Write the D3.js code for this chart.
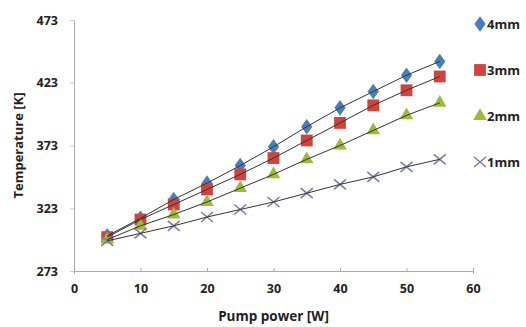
<!DOCTYPE html>
<html>
<head>
<meta charset="utf-8">
<script src="https://cdn.jsdelivr.net/npm/d3@7"></script>
<style>
  body { margin: 0; background: #fff; }
  text { font-family: "Open Sans", "Liberation Sans", sans-serif; font-weight: bold; fill: #222; }
</style>
</head>
<body>
<div id="chart"></div>
<script>
// data
const power = [5, 10, 15, 20, 25, 30, 35, 40, 45, 50, 55];
const temp4mm = [301, 315, 330, 343, 357, 372, 388, 403, 416, 429, 440];
const temp3mm = [300, 314, 326, 338, 350, 363, 377, 391, 405, 417, 428];
const temp2mm = [298, 309, 318, 328, 339, 350, 362, 373, 385, 397, 407];
const temp1mm = [297, 303, 309, 316, 322, 328, 335, 342, 348, 356, 362];
const seriesNames = ["4mm", "3mm", "2mm", "1mm"];
const xTicks = [0, 10, 20, 30, 40, 50, 60];
const yTicks = [273, 323, 373, 423, 473];

const width = 526, height = 327;
const margin = { top: 20, left: 74, right: 53, bottom: 56 };

const svg = d3.select("#chart").append("svg")
  .attr("width", width)
  .attr("height", height);

const x = d3.scaleLinear().domain([0, 60]).range([margin.left, width - margin.right]);
const y = d3.scaleLinear().domain([273, 473]).range([height - margin.bottom, margin.top]);

let series = [
  { name: "4mm", values: temp4mm, color: "#4a7ebb", shape: "diamond" },
  { name: "3mm", values: temp3mm, color: "#d0443f", shape: "square" },
  { name: "2mm", values: temp2mm, color: "#9bbb3a", shape: "triangle" },
  { name: "1mm", values: temp1mm, color: "#7a7aa0", shape: "cross" }
];

// axes
let xAxis = svg.append("g")
  .attr("transform", `translate(0,${y(273)})`)
  .call(d3.axisBottom(x).tickValues(xTicks).tickSize(3).tickPadding(10));
xAxis.select(".domain").attr("stroke", "#aaa");
xAxis.selectAll(".tick line").attr("stroke", "#aaa").attr("y1", -3).attr("y2", 0);
xAxis.selectAll("text").style("font-size", "12.5px").attr("fill", "#222");

let yAxis = svg.append("g")
  .attr("transform", `translate(${x(0)},0)`)
  .call(d3.axisLeft(y).tickValues(yTicks).tickSize(4).tickPadding(12).tickSizeOuter(0));
yAxis.select(".domain").attr("stroke", "#aaa");
yAxis.selectAll(".tick line").attr("stroke", "#ccc");
yAxis.selectAll("text").style("font-size", "12.5px").attr("fill", "#222");

// axis titles
svg.append("text")
  .attr("x", (x(0) + x(60)) / 2)
  .attr("y", 321)
  .attr("text-anchor", "middle")
  .style("font-size", "13.5px")
  .text("Pump power [W]");

svg.append("text")
  .attr("transform", `translate(23,${(y(273) + y(473)) / 2}) rotate(-90)`)
  .attr("text-anchor", "middle")
  .style("font-size", "13px")
  .text("Temperature [K]");

// marker symbols
function drawMarker(g, shape, color, cx, cy) {
  if (shape === "diamond") {
    g.append("path")
      .attr("d", d3.symbol().type(d3.symbolDiamond).size(70)())
      .attr("transform", `translate(${cx},${cy}) scale(1.25,1)`)
      .attr("fill", color);
  } else if (shape === "square") {
    g.append("path")
      .attr("d", d3.symbol().type(d3.symbolSquare).size(140)())
      .attr("transform", `translate(${cx},${cy})`)
      .attr("fill", color);
  } else if (shape === "triangle") {
    g.append("path")
      .attr("d", d3.symbol().type(d3.symbolTriangle).size(80)())
      .attr("transform", `translate(${cx},${cy})`)
      .attr("fill", color);
  } else {
    g.append("path")
      .attr("d", "M-6,-5L6,5M-6,5L6,-5")
      .attr("transform", `translate(${cx},${cy})`)
      .attr("stroke", color)
      .attr("stroke-width", 1.5)
      .attr("fill", "none");
  }
}

let markers = svg.append("g");
series.forEach(s => {
  s.values.forEach((v, i) => drawMarker(markers, s.shape, s.color, x(power[i]), y(v)));
});

// lines on top of markers
let line = d3.line()
  .x((d, i) => x(power[i]))
  .y(d => y(d));

svg.append("g")
  .selectAll("path")
  .data(series)
  .join("path")
    .attr("d", d => line(d.values))
    .attr("fill", "none")
    .attr("stroke", "#333")
    .attr("stroke-width", 1);

// legend
let legend = svg.append("g");
series.forEach((s, i) => {
  let ly = 24 + i * 46;
  drawMarker(legend, s.shape, s.color, 480, ly);
  legend.append("text")
    .attr("x", 487)
    .attr("y", ly)
    .attr("dy", "0.35em")
    .style("font-size", "13px")
    .text(seriesNames[i]);
});
</script>
</body>
</html>
